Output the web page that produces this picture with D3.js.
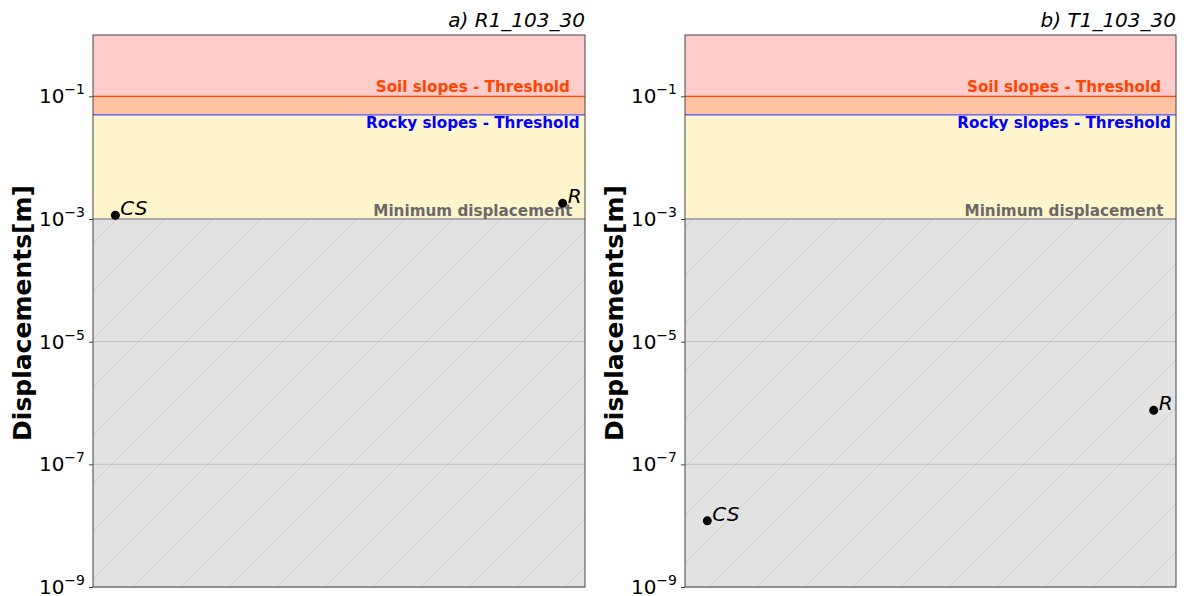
<!DOCTYPE html>
<html><head><meta charset="utf-8">
<script src="https://cdn.jsdelivr.net/npm/d3@7"></script>
<style>body{margin:0;background:#fff}svg{display:block;font-family:"DejaVu Sans",sans-serif}</style>
</head><body><svg id="c" width="1184" height="596"></svg>
<script>
const panelTitles = ["a) R1_103_30", "b) T1_103_30"];
const categories = ["CS", "R"];
const panelA = [1.15e-3, 1.8e-3];
const panelB = [1.2e-8, 7.6e-7];
const yTicks = [1e-1, 1e-3, 1e-5, 1e-7, 1e-9];
const yDomain = [1e-9, 1];
const soilThreshold = 0.1;
const rockyThreshold = 0.05;
const minDisplacement = 1e-3;
const thresholdLabels = ["Soil slopes - Threshold", "Rocky slopes - Threshold", "Minimum displacement"];
const yLabel = "Displacements[m]";

const svg = d3.select("#c");
const defs = svg.append("defs");
const pat = defs.append("pattern").attr("id","hatch").attr("patternUnits","userSpaceOnUse")
  .attr("width",48).attr("height",48);
pat.append("path").attr("d","M-12,12 L12,-12 M0,48 L48,0 M36,60 L60,36")
  .attr("stroke","#d0d0d0").attr("stroke-width",1);

const panels = [{x0:93,x1:585,vals:panelA},{x0:685,x1:1176,vals:panelB}];
const plotTop = 35, plotBottom = 587;

panels.forEach((p,i)=>{
  const g = svg.append("g");
  const y = d3.scaleLog().domain(yDomain).range([plotBottom, plotTop]);
  const x = d3.scaleLinear().domain([-0.05,1.05]).range([p.x0,p.x1]);
  const w = p.x1-p.x0;
  // bands
  g.append("rect").attr("x",p.x0).attr("width",w).attr("y",y(1)).attr("height",y(soilThreshold)-y(1)).attr("fill","#ffcccc");
  g.append("rect").attr("x",p.x0).attr("width",w).attr("y",y(soilThreshold)).attr("height",y(rockyThreshold)-y(soilThreshold)).attr("fill","#ffc2a2");
  g.append("rect").attr("x",p.x0).attr("width",w).attr("y",y(rockyThreshold)).attr("height",y(minDisplacement)-y(rockyThreshold)).attr("fill","#fff5cc");
  g.append("rect").attr("x",p.x0).attr("width",w).attr("y",y(minDisplacement)).attr("height",y(yDomain[0])-y(minDisplacement)).attr("fill","#e2e2e2");
  g.append("rect").attr("x",p.x0).attr("width",w).attr("y",y(minDisplacement)).attr("height",y(yDomain[0])-y(minDisplacement)).attr("fill","url(#hatch)");
  // grid
  yTicks.forEach(t=>{
    g.append("line").attr("x1",p.x0).attr("x2",p.x1).attr("y1",y(t)).attr("y2",y(t))
      .attr("stroke","#b8b8b8").attr("stroke-width",0.8);
  });
  // threshold lines
  g.append("line").attr("x1",p.x0).attr("x2",p.x1).attr("y1",y(soilThreshold)).attr("y2",y(soilThreshold)).attr("stroke","#ff4500").attr("stroke-width",1.2);
  g.append("line").attr("x1",p.x0).attr("x2",p.x1).attr("y1",y(rockyThreshold)).attr("y2",y(rockyThreshold)).attr("stroke","#4a4aff").attr("stroke-width",1.2);
  g.append("line").attr("x1",p.x0).attr("x2",p.x1).attr("y1",y(minDisplacement)).attr("y2",y(minDisplacement)).attr("stroke","#999").attr("stroke-width",1.5);
  // labels
  const lx = p.x0 + 0.772*w;
  g.append("text").attr("x",lx).attr("y",y(soilThreshold)-4).attr("text-anchor","middle").attr("font-size",15.2).attr("font-weight","bold").attr("fill","#ff4500").text(thresholdLabels[0]);
  g.append("text").attr("x",lx).attr("y",y(rockyThreshold)+13).attr("text-anchor","middle").attr("font-size",15.2).attr("font-weight","bold").attr("fill","#0000ff").text(thresholdLabels[1]);
  g.append("text").attr("x",lx).attr("y",y(minDisplacement)-3).attr("text-anchor","middle").attr("font-size",15.2).attr("font-weight","bold").attr("fill","#696969").text(thresholdLabels[2]);
  // frame
  g.append("rect").attr("x",p.x0).attr("y",plotTop).attr("width",w).attr("height",plotBottom-plotTop).attr("fill","none").attr("stroke","#444").attr("stroke-width",1);
  // y axis
  const ax = g.append("g").attr("transform",`translate(${p.x0},0)`).call(d3.axisLeft(y).tickValues(yTicks).tickSize(4).tickFormat(""));
  ax.select(".domain").remove();
  ax.selectAll("line").attr("stroke","#444");
  yTicks.forEach(t=>{
    const e = Math.round(Math.log10(t));
    const tx = g.append("text").attr("x",p.x0-8).attr("y",y(t)+7).attr("text-anchor","end").attr("font-size",20).attr("fill","#000");
    tx.append("tspan").text("10");
    tx.append("tspan").attr("dy",-9).attr("font-size",14).text("\u2212"+Math.abs(e));
  });
  // y label
  g.append("text").attr("transform",`translate(${p.x0-62},${(plotTop+plotBottom)/2 + 2}) rotate(-90)`).attr("text-anchor","middle")
    .attr("font-size",25).attr("font-weight","bold").text(yLabel);
  // title
  g.append("text").attr("x",p.x1).attr("y",plotTop-8).attr("text-anchor","end").attr("font-size",20).attr("font-style","italic").text(panelTitles[i]);
  // points
  categories.forEach((c,j)=>{
    const cx = x(j), cy = y(p.vals[j]);
    g.append("circle").attr("cx",cx).attr("cy",cy).attr("r",4.5).attr("fill","#000");
    g.append("text").attr("x",cx+5).attr("y",cy-0).attr("font-size",20).attr("font-style","italic").text(c);
  });
});
</script></body></html>
